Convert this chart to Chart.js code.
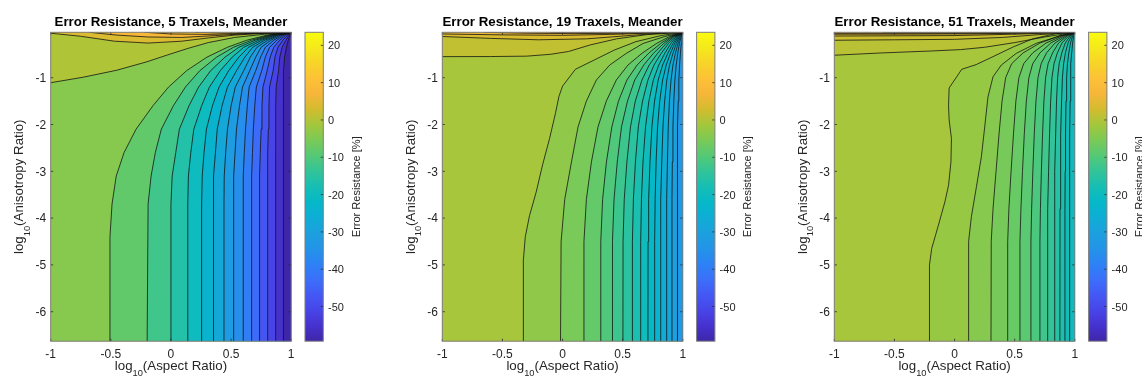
<!DOCTYPE html>
<html>
<head>
<meta charset="utf-8">
<script src="https://cdn.jsdelivr.net/npm/chart.js@4.4.1/dist/chart.umd.min.js"></script>
<style>
html, body { margin: 0; padding: 0; background: #fff; width: 1142px; height: 382px; overflow: hidden; }
canvas { position: absolute; top: 0; }
</style>
</head>
<body>
<script>
// axes
const xRange = [-1, 1];
const yRange = [-6.63, -0.03];
const xTicks = [-1, -0.5, 0, 0.5, 1];
const yTicks = [-6, -5, -4, -3, -2, -1];
const cbRange = [-59.3, 23.5];
const cbTicks = [-50, -40, -30, -20, -10, 0, 10, 20];
const titles = ['Error Resistance, 5 Traxels, Meander', 'Error Resistance, 19 Traxels, Meander', 'Error Resistance, 51 Traxels, Meander'];

// contour levels, highest first, and the value below the last level
const levels5 = [19.5, 15.5, 11.6, 7.6, 3.7, -0.2, -4.2, -8.1, -12.0, -16.0, -19.9, -23.8, -27.8, -31.7, -35.7, -39.6, -43.5, -47.5, -51.4, -55.4];
const levels19 = [10.5, 8.2, 5.9, 3.6, 1.3, -1.0, -3.3, -5.6, -7.9, -10.2, -12.5, -14.8, -17.1, -19.4, -21.7, -24.0, -26.3, -28.6, -30.9];
const levels51 = [8.6, 7.0, 5.4, 3.8, 2.2, 0.6, -1.0, -2.6, -4.2, -5.8, -7.4, -9.0, -10.6, -12.2, -13.8, -15.4, -17.0, -18.6];
const zMin = [-59.3, -33.2, -20.2];

// contour lines [x, y], same order as the levels
const lines5 = [
  [[0.55,-0.03],[0.75,-0.036],[0.9,-0.034],[1,-0.03]],
  [[0.2,-0.03],[0.45,-0.048],[0.72,-0.045],[0.9,-0.036],[1,-0.03]],
  [[-0.22,-0.03],[0,-0.065],[0.3,-0.075],[0.6,-0.058],[0.85,-0.04],[1,-0.03]],
  [[-0.68,-0.03],[-0.45,-0.09],[-0.19,-0.13],[0.09,-0.14],[0.37,-0.1],[0.64,-0.06],[0.85,-0.04],[1,-0.03]],
  [[-1,-0.05],[-0.75,-0.115],[-0.47,-0.22],[-0.19,-0.26],[0.09,-0.22],[0.31,-0.15],[0.53,-0.09],[0.78,-0.05],[1,-0.03]],
  [[-1,-1.107],[-0.73,-0.99],[-0.45,-0.84],[-0.2,-0.66],[-0.03,-0.515],[0.14,-0.375],[0.31,-0.25],[0.53,-0.14],[0.78,-0.07],[1,-0.03]],
  [[-0.509,-6.63],[-0.507,-4.4],[-0.49,-3.7],[-0.455,-3.1],[-0.39,-2.6],[-0.29,-2.1],[-0.15,-1.6],[-0.02,-1.2],[0.13,-0.85],[0.3,-0.56],[0.47,-0.35],[0.63,-0.2],[0.8,-0.09],[1,-0.03]],
  [[-0.198,-6.63],[-0.19,-3.7],[-0.165,-3.1],[-0.13,-2.6],[-0.08,-2.1],[0.02,-1.6],[0.12,-1.2],[0.24,-0.85],[0.38,-0.56],[0.52,-0.35],[0.67,-0.2],[0.82,-0.09],[1,-0.03]],
  [[-0.005,-6.63],[0,-3.7],[0.01,-3.1],[0.04,-2.6],[0.07,-2.1],[0.15,-1.6],[0.23,-1.2],[0.33,-0.85],[0.45,-0.56],[0.565,-0.35],[0.7,-0.2],[0.835,-0.09],[1,-0.03]],
  [[0.137,-6.63],[0.14,-3.7],[0.145,-3.1],[0.165,-2.6],[0.19,-2.1],[0.255,-1.6],[0.32,-1.2],[0.41,-0.85],[0.51,-0.56],[0.605,-0.35],[0.73,-0.2],[0.85,-0.09],[1,-0.03]],
  [[0.253,-6.63],[0.255,-3.7],[0.26,-3.1],[0.275,-2.6],[0.295,-2.1],[0.345,-1.6],[0.4,-1.2],[0.48,-0.85],[0.565,-0.56],[0.645,-0.35],[0.755,-0.2],[0.865,-0.09],[1,-0.03]],
  [[0.351,-6.63],[0.352,-3.7],[0.356,-3.1],[0.37,-2.6],[0.385,-2.1],[0.425,-1.6],[0.47,-1.2],[0.545,-0.85],[0.615,-0.56],[0.68,-0.35],[0.78,-0.2],[0.88,-0.09],[1,-0.03]],
  [[0.44,-6.63],[0.441,-3.7],[0.443,-3.1],[0.455,-2.6],[0.47,-2.1],[0.5,-1.6],[0.535,-1.2],[0.605,-0.85],[0.66,-0.56],[0.715,-0.35],[0.805,-0.2],[0.895,-0.09],[1,-0.03]],
  [[0.52,-6.63],[0.521,-3.7],[0.522,-3.1],[0.533,-2.6],[0.545,-2.1],[0.57,-1.6],[0.595,-1.2],[0.655,-0.85],[0.705,-0.56],[0.75,-0.35],[0.83,-0.2],[0.91,-0.09],[1,-0.03]],
  [[0.6,-6.63],[0.601,-3.1],[0.61,-2.6],[0.62,-2.1],[0.635,-1.6],[0.65,-1.2],[0.705,-0.85],[0.745,-0.56],[0.785,-0.35],[0.855,-0.2],[0.925,-0.09],[1,-0.03]],
  [[0.67,-6.63],[0.671,-3.1],[0.678,-2.6],[0.685,-2.1],[0.697,-1.6],[0.71,-1.2],[0.755,-0.85],[0.785,-0.56],[0.82,-0.35],[0.88,-0.2],[0.94,-0.09],[1,-0.03]],
  [[0.736,-6.63],[0.737,-3.1],[0.743,-2.6],[0.75,-2.1],[0.757,-1.6],[0.765,-1.2],[0.8,-0.85],[0.825,-0.56],[0.855,-0.35],[0.905,-0.2],[0.955,-0.09],[1,-0.03]],
  [[0.803,-6.63],[0.803,-3.1],[0.806,-2.6],[0.81,-2.1],[0.815,-1.6],[0.82,-1.2],[0.85,-0.85],[0.865,-0.56],[0.89,-0.35],[0.93,-0.2],[0.97,-0.09],[1,-0.03]],
  [[0.869,-6.63],[0.869,-3.1],[0.87,-2.6],[0.872,-2.1],[0.873,-1.6],[0.875,-1.2],[0.895,-0.85],[0.905,-0.56],[0.925,-0.35],[0.955,-0.2],[0.982,-0.09],[1,-0.03]],
  [[0.933,-6.63],[0.933,-2.1],[0.934,-1.6],[0.935,-1.2],[0.94,-0.85],[0.945,-0.56],[0.96,-0.35],[0.975,-0.2],[0.992,-0.09],[1,-0.03]]
];

const lines19 = [
  [[-0.1,-0.03],[0.3,-0.04],[0.7,-0.038],[1,-0.03]],
  [[-0.65,-0.03],[-0.3,-0.05],[0.1,-0.058],[0.5,-0.048],[1,-0.03]],
  [[-1,-0.065],[-0.5,-0.085],[0,-0.095],[0.4,-0.075],[0.75,-0.045],[1,-0.03]],
  [[-1,-0.12],[-0.6,-0.16],[-0.2,-0.19],[0.2,-0.17],[0.5,-0.11],[0.75,-0.06],[1,-0.03]],
  [[-1,-0.55],[-0.6,-0.548],[-0.3,-0.54],[-0.1,-0.5],[0.05,-0.44],[0.23,-0.3],[0.45,-0.17],[0.7,-0.08],[1,-0.03]],
  [[-0.328,-6.63],[-0.326,-4.9],[-0.31,-4.4],[-0.275,-3.95],[-0.22,-3.45],[-0.165,-2.85],[-0.108,-2.3],[-0.058,-1.75],[-0.03,-1.4],[0,-1.18],[0.107,-0.82],[0.265,-0.62],[0.43,-0.41],[0.61,-0.23],[0.82,-0.1],[1,-0.03]],
  [[-0.017,-6.63],[-0.012,-4.5],[0.018,-3.6],[0.074,-2.8],[0.129,-2.05],[0.198,-1.5],[0.281,-1.05],[0.392,-0.73],[0.53,-0.48],[0.668,-0.27],[0.85,-0.12],[1,-0.03]],
  [[0.176,-6.63],[0.178,-4.5],[0.198,-3.6],[0.24,-2.8],[0.295,-2.05],[0.364,-1.5],[0.447,-1.05],[0.544,-0.73],[0.66,-0.48],[0.78,-0.27],[0.89,-0.12],[1,-0.03]],
  [[0.317,-6.63],[0.318,-4.5],[0.333,-3.6],[0.365,-2.8],[0.41,-2.05],[0.465,-1.5],[0.535,-1.05],[0.62,-0.73],[0.715,-0.48],[0.815,-0.27],[0.905,-0.12],[1,-0.03]],
  [[0.414,-6.63],[0.415,-4.5],[0.428,-3.6],[0.455,-2.8],[0.49,-2.05],[0.54,-1.5],[0.6,-1.05],[0.675,-0.73],[0.755,-0.48],[0.84,-0.27],[0.915,-0.12],[1,-0.03]],
  [[0.502,-6.63],[0.503,-4.5],[0.513,-3.6],[0.535,-2.8],[0.565,-2.05],[0.605,-1.5],[0.66,-1.05],[0.72,-0.73],[0.79,-0.48],[0.86,-0.27],[0.925,-0.12],[1,-0.03]],
  [[0.58,-6.63],[0.581,-4.5],[0.589,-3.6],[0.606,-2.8],[0.63,-2.05],[0.665,-1.5],[0.71,-1.05],[0.76,-0.73],[0.82,-0.48],[0.88,-0.27],[0.935,-0.12],[1,-0.03]],
  [[0.649,-6.63],[0.65,-4.5],[0.656,-3.6],[0.669,-2.8],[0.69,-2.05],[0.718,-1.5],[0.755,-1.05],[0.8,-0.73],[0.85,-0.48],[0.9,-0.27],[0.945,-0.12],[1,-0.03]],
  [[0.71,-6.63],[0.711,-4.5],[0.716,-3.6],[0.727,-2.8],[0.743,-2.05],[0.765,-1.5],[0.795,-1.05],[0.832,-0.73],[0.875,-0.48],[0.917,-0.27],[0.955,-0.12],[1,-0.03]],
  [[0.765,-6.63],[0.766,-4.5],[0.77,-3.6],[0.778,-2.8],[0.79,-2.05],[0.808,-1.5],[0.832,-1.05],[0.862,-0.73],[0.897,-0.48],[0.932,-0.27],[0.963,-0.12],[1,-0.03]],
  [[0.815,-6.63],[0.815,-4.5],[0.818,-3.6],[0.825,-2.8],[0.835,-2.05],[0.849,-1.5],[0.867,-1.05],[0.89,-0.73],[0.918,-0.48],[0.946,-0.27],[0.971,-0.12],[1,-0.03]],
  [[0.865,-6.63],[0.865,-4.5],[0.867,-3.6],[0.872,-2.8],[0.879,-2.05],[0.889,-1.5],[0.902,-1.05],[0.918,-0.73],[0.938,-0.48],[0.96,-0.27],[0.979,-0.12],[1,-0.03]],
  [[0.909,-6.63],[0.91,-3.6],[0.913,-2.8],[0.918,-2.05],[0.925,-1.5],[0.934,-1.05],[0.945,-0.73],[0.958,-0.48],[0.972,-0.27],[0.986,-0.12],[1,-0.03]],
  [[0.953,-6.63],[0.954,-3.6],[0.955,-2.8],[0.958,-2.05],[0.962,-1.5],[0.967,-1.05],[0.973,-0.73],[0.98,-0.48],[0.987,-0.27],[0.993,-0.12],[1,-0.03]]
];

const lines51 = [
  [[-0.6,-0.03],[0,-0.04],[0.6,-0.037],[1,-0.03]],
  [[-1,-0.05],[-0.3,-0.05],[0.4,-0.044],[1,-0.03]],
  [[-1,-0.07],[-0.4,-0.068],[0.2,-0.062],[0.6,-0.045],[1,-0.03]],
  [[-1,-0.11],[-0.5,-0.105],[0,-0.1],[0.5,-0.07],[1,-0.03]],
  [[-1,-0.2],[-0.5,-0.19],[0,-0.18],[0.4,-0.14],[0.7,-0.08],[1,-0.03]],
  [[-1,-0.52],[-0.6,-0.47],[-0.2,-0.43],[0.05,-0.4],[0.25,-0.35],[0.5,-0.25],[0.75,-0.13],[1,-0.03]],
  [[-0.212,-6.63],[-0.212,-5.3],[-0.205,-5.0],[-0.19,-4.65],[-0.134,-4.15],[-0.08,-3.65],[-0.05,-3.3],[-0.03,-2.8],[-0.026,-2.3],[-0.045,-1.9],[-0.05,-1.6],[-0.045,-1.22],[0.06,-0.82],[0.18,-0.72],[0.32,-0.55],[0.49,-0.34],[0.65,-0.17],[0.84,-0.06],[1,-0.03]],
  [[0.115,-6.63],[0.117,-4.5],[0.14,-3.97],[0.182,-3.33],[0.223,-2.69],[0.251,-2.05],[0.278,-1.41],[0.32,-0.98],[0.389,-0.73],[0.513,-0.48],[0.68,-0.265],[0.873,-0.11],[1,-0.03]],
  [[0.303,-6.63],[0.305,-4.5],[0.32,-3.8],[0.345,-3.0],[0.37,-2.2],[0.395,-1.5],[0.425,-1.0],[0.475,-0.7],[0.57,-0.47],[0.71,-0.26],[0.88,-0.1],[1,-0.03]],
  [[0.441,-6.63],[0.442,-4.5],[0.452,-3.8],[0.47,-3.0],[0.49,-2.2],[0.51,-1.5],[0.535,-1.0],[0.575,-0.7],[0.65,-0.47],[0.76,-0.26],[0.9,-0.1],[1,-0.03]],
  [[0.544,-6.63],[0.544,-4.5],[0.552,-3.8],[0.565,-3.0],[0.58,-2.2],[0.597,-1.5],[0.618,-1.0],[0.65,-0.7],[0.71,-0.47],[0.8,-0.26],[0.915,-0.1],[1,-0.03]],
  [[0.635,-6.63],[0.635,-4.5],[0.641,-3.8],[0.651,-3.0],[0.663,-2.2],[0.677,-1.5],[0.694,-1.0],[0.72,-0.7],[0.765,-0.47],[0.835,-0.26],[0.93,-0.1],[1,-0.03]],
  [[0.71,-6.63],[0.71,-4.5],[0.714,-3.8],[0.722,-3.0],[0.732,-2.2],[0.743,-1.5],[0.757,-1.0],[0.778,-0.7],[0.815,-0.47],[0.865,-0.26],[0.94,-0.1],[1,-0.03]],
  [[0.773,-6.63],[0.773,-4.5],[0.776,-3.8],[0.782,-3.0],[0.79,-2.2],[0.799,-1.5],[0.81,-1.0],[0.827,-0.7],[0.855,-0.47],[0.893,-0.26],[0.952,-0.1],[1,-0.03]],
  [[0.829,-6.63],[0.831,-3.8],[0.835,-3.0],[0.841,-2.2],[0.848,-1.5],[0.857,-1.0],[0.87,-0.7],[0.892,-0.47],[0.92,-0.26],[0.963,-0.1],[1,-0.03]],
  [[0.876,-6.63],[0.877,-3.8],[0.88,-3.0],[0.885,-2.2],[0.89,-1.5],[0.897,-1.0],[0.907,-0.7],[0.922,-0.47],[0.943,-0.26],[0.973,-0.1],[1,-0.03]],
  [[0.917,-6.63],[0.918,-3.8],[0.92,-3.0],[0.923,-2.2],[0.927,-1.5],[0.932,-1.0],[0.939,-0.7],[0.95,-0.47],[0.964,-0.26],[0.982,-0.1],[1,-0.03]],
  [[0.956,-6.63],[0.956,-3.8],[0.957,-3.0],[0.959,-2.2],[0.961,-1.5],[0.964,-1.0],[0.968,-0.7],[0.974,-0.47],[0.982,-0.26],[0.991,-0.1],[1,-0.03]]
];

const panels = [
  { left: 0,   axL: 50.7, levels: levels5,  lines: lines5,  zmin: zMin[0], title: titles[0] },
  { left: 391, axL: 51.3, levels: levels19, lines: lines19, zmin: zMin[1], title: titles[1] },
  { left: 783, axL: 51.3, levels: levels51, lines: lines51, zmin: zMin[2], title: titles[2] }
];

// parula-like colormap, evenly spaced stops
const PARULA = ['#3e26a8', '#4632cf', '#4745e8', '#4458f4', '#3b6ffa', '#2d82f5', '#2394e8', '#1ca0de', '#0fadd6', '#05b8c8',
  '#16beb4', '#32c498', '#54c976', '#7aca57', '#a3c73c', '#d2bc2e', '#f6b63a', '#fdc137', '#f7d428', '#f5e91c', '#f9fb0e'];
const FONT = "'Liberation Sans', Arial, Helvetica, sans-serif";
const INK = '#262626';
const AX_W = 240.5, TOP = 32.3, BOTTOM = 341.2, CB_OFF = 254.3, CB_W = 18.3;

const hexRgb = h => [1, 3, 5].map(i => parseInt(h.slice(i, i + 2), 16));
function parula(v) {
  let f = (v - cbRange[0]) / (cbRange[1] - cbRange[0]);
  f = Math.max(0, Math.min(1, f)) * (PARULA.length - 1);
  const i = Math.min(Math.floor(f), PARULA.length - 2), t = f - i;
  const a = hexRgb(PARULA[i]), b = hexRgb(PARULA[i + 1]);
  return 'rgb(' + a.map((c, k) => Math.round(c + (b[k] - c) * t)).join(',') + ')';
}

function subText(ctx, x, y, main, sub, rest, size) {
  const f1 = size + 'px ' + FONT, f2 = (size * 0.7).toFixed(1) + 'px ' + FONT;
  ctx.font = f1;
  const w1 = ctx.measureText(main).width, w3 = ctx.measureText(rest).width;
  ctx.font = f2;
  const w2 = ctx.measureText(sub).width;
  let cx = x - (w1 + w2 + w3) / 2;
  ctx.textAlign = 'left';
  ctx.textBaseline = 'alphabetic';
  ctx.font = f1; ctx.fillText(main, cx, y); cx += w1;
  ctx.font = f2; ctx.fillText(sub, cx, y + size * 0.5); cx += w2;
  ctx.font = f1; ctx.fillText(rest, cx, y);
}

// fills each band below a contour line, highest level first
function makeFill(panel) {
  return {
    id: 'contourFill',
    beforeDatasetsDraw(chart) {
      const { ctx, chartArea: a, scales: { x, y } } = chart;
      const corners = [[x.max, y.max], [x.max, y.min], [x.min, y.min], [x.min, y.max]];
      ctx.save();
      ctx.beginPath();
      ctx.rect(a.left, a.top, a.width, a.height);
      ctx.clip();
      ctx.fillStyle = parula(panel.levels[0]);
      ctx.fillRect(a.left, a.top, a.width, a.height);
      chart.data.datasets.forEach((ds, k) => {
        const pts = ds.data, s = pts[0], e = pts[pts.length - 1];
        ctx.beginPath();
        pts.forEach((p, i) => {
          const px = x.getPixelForValue(p.x), py = y.getPixelForValue(p.y);
          i ? ctx.lineTo(px, py) : ctx.moveTo(px, py);
        });
        const n = s.y <= y.min + 1e-6 ? 2 : (s.x <= x.min + 1e-6 ? 3 : 4);
        const c0 = (e.x >= x.max - 1e-6 && e.y < y.max - 1e-6) ? 1 : 0;
        for (let c = c0; c < n; c++) ctx.lineTo(x.getPixelForValue(corners[c][0]), y.getPixelForValue(corners[c][1]));
        ctx.closePath();
        ctx.fillStyle = parula(k + 1 < panel.levels.length ? panel.levels[k + 1] : panel.zmin);
        ctx.fill();
      });
      ctx.restore();
    }
  };
}

function makeDecor(panel) {
  return {
    id: 'axesDecor',
    afterDraw(chart) {
      const { ctx, chartArea: a, scales: { x, y } } = chart;
      ctx.save();
      ctx.strokeStyle = INK;
      ctx.lineWidth = 0.8;
      ctx.beginPath();
      x.ticks.forEach(t => {
        const p = x.getPixelForValue(t.value);
        ctx.moveTo(p, a.bottom); ctx.lineTo(p, a.bottom - 2.5);
        ctx.moveTo(p, a.top); ctx.lineTo(p, a.top + 2.5);
      });
      y.ticks.forEach(t => {
        const p = y.getPixelForValue(t.value);
        ctx.moveTo(a.left, p); ctx.lineTo(a.left + 2.5, p);
        ctx.moveTo(a.right, p); ctx.lineTo(a.right - 2.5, p);
      });
      ctx.stroke();
      ctx.strokeStyle = '#7d7d7d';
      ctx.lineWidth = 1;
      ctx.strokeRect(a.left, a.top, a.width, a.height);

      ctx.fillStyle = INK;
      ctx.font = '12px ' + FONT;
      ctx.textAlign = 'center';
      ctx.textBaseline = 'alphabetic';
      x.ticks.forEach(t => ctx.fillText(String(t.value), x.getPixelForValue(t.value), a.bottom + 17));
      ctx.textAlign = 'right';
      y.ticks.forEach(t => ctx.fillText(String(t.value), a.left - 4.5, y.getPixelForValue(t.value) + 4.3));

      const cx = (a.left + a.right) / 2;
      subText(ctx, cx, a.bottom + 28.3, 'log', '10', '(Aspect Ratio)', 13.3);
      ctx.save();
      ctx.translate(a.left - 27.5, (a.top + a.bottom) / 2);
      ctx.rotate(-Math.PI / 2);
      subText(ctx, 0, 0, 'log', '10', '(Anisotropy Ratio)', 13.3);
      ctx.restore();

      ctx.fillStyle = '#000';
      ctx.font = 'bold 13.3px ' + FONT;
      ctx.textAlign = 'center';
      ctx.fillText(panel.title, cx, a.top - 6.8);
      ctx.restore();
    }
  };
}

const cbDecor = {
  id: 'cbDecor',
  afterDraw(chart) {
    const { ctx, chartArea: a, scales: { y } } = chart;
    ctx.save();
    ctx.strokeStyle = INK;
    ctx.lineWidth = 0.8;
    ctx.beginPath();
    y.ticks.forEach(t => {
      const p = y.getPixelForValue(t.value);
      ctx.moveTo(a.right, p); ctx.lineTo(a.right - 2.5, p);
    });
    ctx.stroke();
    ctx.strokeStyle = '#7d7d7d';
    ctx.lineWidth = 1;
    ctx.strokeRect(a.left, a.top, a.width, a.height);
    ctx.fillStyle = INK;
    ctx.font = '11px ' + FONT;
    ctx.textAlign = 'left';
    ctx.textBaseline = 'alphabetic';
    y.ticks.forEach(t => ctx.fillText(String(t.value), a.right + 4.7, y.getPixelForValue(t.value) + 4));
    ctx.translate(a.left + 54.5, (a.top + a.bottom) / 2);
    ctx.rotate(-Math.PI / 2);
    ctx.textAlign = 'center';
    ctx.fillText('Error Resistance [%]', 0, 0);
    ctx.restore();
  }
};

function cbGradient(chart) {
  const a = chart.chartArea;
  if (!a) return PARULA[0];
  const ys = chart.scales.y;
  const g = chart.ctx.createLinearGradient(0, ys.getPixelForValue(cbRange[0]), 0, ys.getPixelForValue(cbRange[1]));
  PARULA.forEach((c, k) => g.addColorStop(k / (PARULA.length - 1), c));
  return g;
}

function addCanvas(left, w) {
  const c = document.createElement('canvas');
  c.width = w; c.height = 382;
  c.style.left = left + 'px';
  c.style.width = w + 'px'; c.style.height = '382px';
  document.body.appendChild(c);
  return c;
}

panels.forEach(panel => {
  const cv = addCanvas(panel.left, 300);
  new Chart(cv, {
    type: 'scatter',
    data: {
      datasets: panel.lines.map(pts => ({
        data: pts.map(p => ({ x: p[0], y: p[1] })),
        showLine: true,
        borderColor: '#141414',
        borderWidth: 0.8,
        pointRadius: 0,
        fill: false
      }))
    },
    options: {
      responsive: false,
      animation: false,
      events: [],
      layout: { padding: { left: 0, right: 300 - panel.axL - AX_W, top: TOP, bottom: 0 } },
      plugins: { legend: { display: false }, tooltip: { enabled: false } },
      scales: {
        x: {
          type: 'linear', min: xRange[0], max: xRange[1],
          grid: { display: false }, border: { display: false }, ticks: { display: false },
          afterBuildTicks: s => { s.ticks = xTicks.map(v => ({ value: v })); },
          afterFit: s => { s.height = 382 - BOTTOM; }
        },
        y: {
          type: 'linear', min: yRange[0], max: yRange[1],
          grid: { display: false }, border: { display: false }, ticks: { display: false },
          afterBuildTicks: s => { s.ticks = yTicks.map(v => ({ value: v })); },
          afterFit: s => { s.width = panel.axL; }
        }
      }
    },
    plugins: [makeFill(panel), makeDecor(panel)]
  });

  const padL = panel.axL + CB_OFF - 295;
  const cb = addCanvas(panel.left + 295, 97);
  new Chart(cb, {
    type: 'bar',
    data: {
      labels: ['Error Resistance'],
      datasets: [{ data: [cbRange], backgroundColor: c => cbGradient(c.chart), borderWidth: 0, barPercentage: 1, categoryPercentage: 1 }]
    },
    options: {
      responsive: false,
      animation: false,
      events: [],
      layout: { padding: { left: padL, right: 0, top: TOP, bottom: 382 - BOTTOM } },
      plugins: { legend: { display: false }, tooltip: { enabled: false } },
      scales: {
        x: { display: false },
        y: {
          position: 'right', min: cbRange[0], max: cbRange[1],
          grid: { display: false }, border: { display: false }, ticks: { display: false },
          afterBuildTicks: s => { s.ticks = cbTicks.map(v => ({ value: v })); },
          afterFit: s => { s.width = 97 - padL - CB_W; }
        }
      }
    },
    plugins: [cbDecor]
  });
});
</script>
</body>
</html>
